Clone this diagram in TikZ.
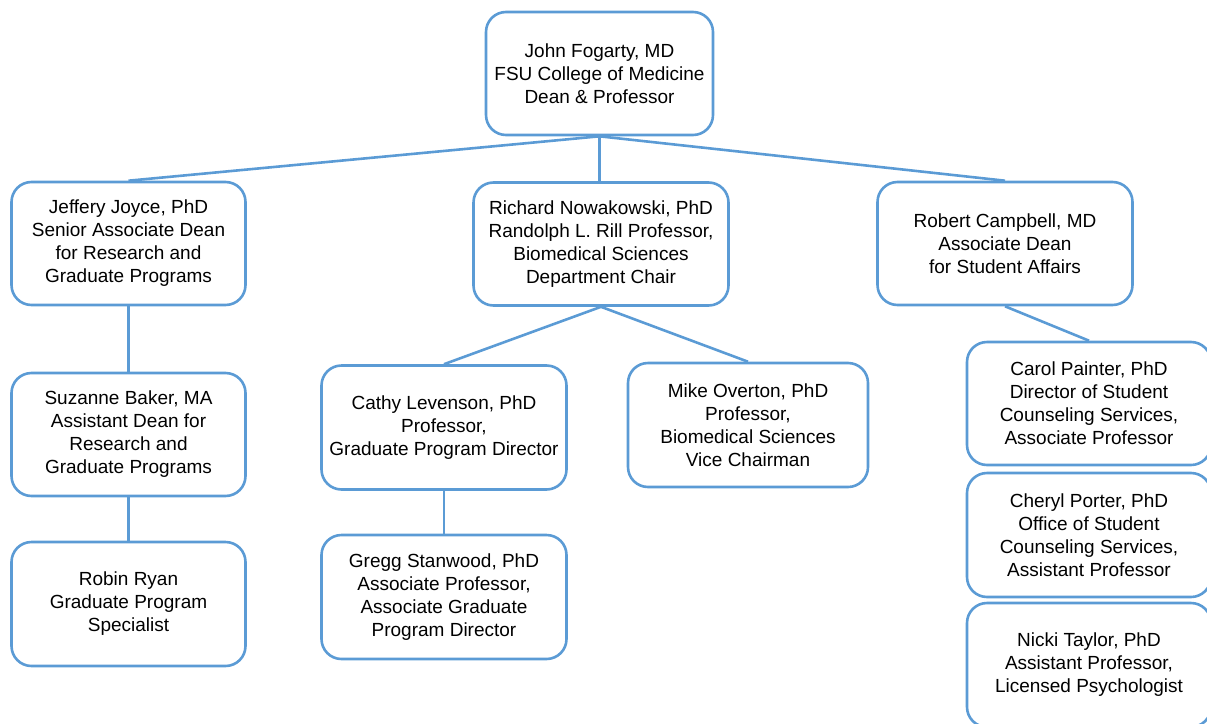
\documentclass[tikz,border=0pt]{standalone}
\usepackage{fontspec}
\setmainfont{Liberation Sans}
\definecolor{orgblue}{RGB}{91,155,213}
\begin{document}
\begin{tikzpicture}[x=1pt,y=-1pt,
  box/.style={draw=orgblue, line width=2.6pt, rounded corners=20pt, fill=white,
    inner sep=0pt, align=center, text=black,
    font=\fontsize{19}{23}\selectfont},
  link/.style={draw=orgblue, line width=2.6pt}]
\useasboundingbox (0,0) rectangle (1207,723);
\clip (0,0) rectangle (1207,723);
% level 1
\node[box, minimum width=227pt, minimum height=123pt] (jf) at (599.5,73.5)
  {John Fogarty, MD\\FSU College of Medicine\\Dean \& Professor};
% level 2
\node[box, minimum width=234pt, minimum height=123pt] (jj) at (128.5,243.5)
  {Jeffery Joyce, PhD\\Senior Associate Dean\\for Research and\\Graduate Programs};
\node[box, minimum width=255pt, minimum height=123pt] (rn) at (601,244)
  {Richard Nowakowski, PhD\\Randolph L. Rill Professor,\\Biomedical Sciences\\Department Chair};
\node[box, minimum width=255pt, minimum height=123pt] (rc) at (1005,243.5)
  {Robert Campbell, MD\\Associate Dean\\for Student Affairs};
% level 3
\node[box, minimum width=234pt, minimum height=123pt] (sb) at (128.5,434.5)
  {Suzanne Baker, MA\\Assistant Dean for\\Research and\\Graduate Programs};
\node[box, minimum width=245pt, minimum height=124pt] (cl) at (444,427.5)
  {Cathy Levenson, PhD\\Professor,\\Graduate Program Director};
\node[box, minimum width=240pt, minimum height=124pt] (mo) at (748,425)
  {Mike Overton, PhD\\Professor,\\Biomedical Sciences\\Vice Chairman};
\node[box, minimum width=244pt, minimum height=123pt] (cp) at (1089,403.5)
  {Carol Painter, PhD\\Director of Student\\Counseling Services,\\Associate Professor};
% level 4
\node[box, minimum width=234pt, minimum height=124pt] (rr) at (128.5,604)
  {Robin Ryan\\Graduate Program\\Specialist};
\node[box, minimum width=245pt, minimum height=124pt] (gs) at (444,597)
  {Gregg Stanwood, PhD\\Associate Professor,\\Associate Graduate\\Program Director};
\node[box, minimum width=244pt, minimum height=124pt] (cy) at (1089,535)
  {Cheryl Porter, PhD\\Office of Student\\Counseling Services,\\Assistant Professor};
\node[box, minimum width=244pt, minimum height=124pt] (nt) at (1089,665)
  {Nicki Taylor, PhD\\Assistant Professor,\\Licensed Psychologist};
% connectors
\draw[link] (jf.south) -- (jj.north);
\draw[link] (jf.south) -- (rn.north -| jf.south);
\draw[link] (jf.south) -- (rc.north);
\draw[link] (jj.south) -- (sb.north);
\draw[link] (sb.south) -- (rr.north);
\draw[link] (rn.south) -- (cl.north);
\draw[link] (rn.south) -- (mo.north);
\draw[link] (cl.south) -- (gs.north);
\draw[link] (rc.south) -- (cp.north);
\end{tikzpicture}
\end{document}
